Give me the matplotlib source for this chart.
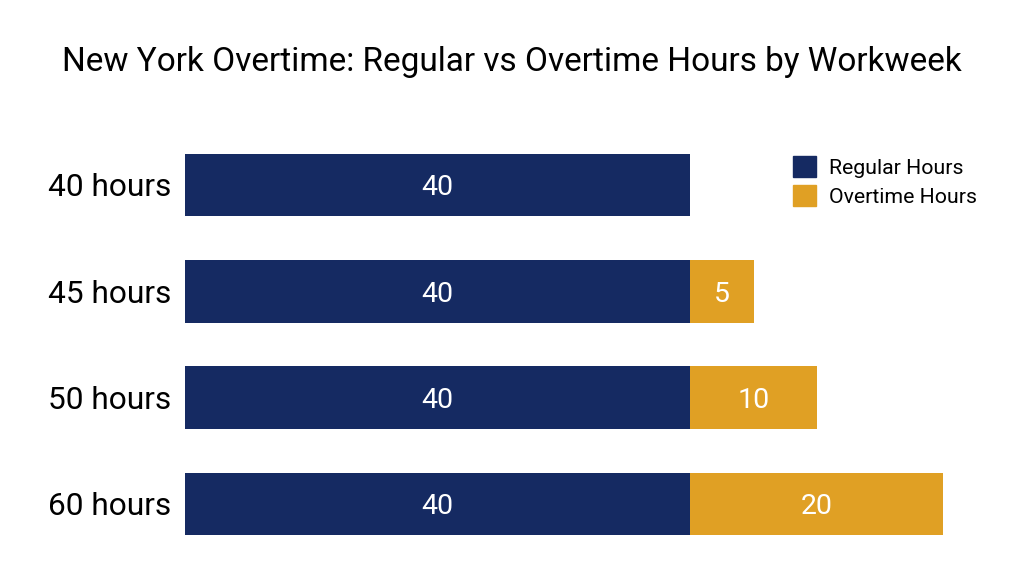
import matplotlib
matplotlib.use("Agg")
import matplotlib.pyplot as plt
from matplotlib.patches import Patch

plt.rcParams['font.family'] = ['Roboto', 'DejaVu Sans']

categories = ["40 hours", "45 hours", "50 hours", "60 hours"]
regular = [40, 40, 40, 40]
overtime = [0, 5, 10, 20]

navy = "#152a62"
gold = "#e0a024"

fig = plt.figure(figsize=(10.24, 5.72), dpi=100)
ax = fig.add_axes([0.1807, 0.026, 0.7403, 0.7436])

y = list(range(len(categories)))
ax.barh(y, regular, height=0.59, color=navy)
ax.barh(y, overtime, left=regular, height=0.59, color=gold)

for i in y:
    ax.text(regular[i] / 2, i, str(regular[i]), ha='center', va='center_baseline',
            color='white', fontsize=20.5)
    if overtime[i] > 0:
        ax.text(regular[i] + overtime[i] / 2, i, str(overtime[i]), ha='center',
                va='center_baseline', color='white', fontsize=20.5)

ax.set_xlim(0, 60)
ax.set_ylim(3.5, -0.5)
ax.set_yticks(y)
ax.set_yticklabels(categories, fontsize=22.8, va='center_baseline')
ax.tick_params(axis='y', length=0, pad=10)
ax.set_xticks([])
for s in ax.spines.values():
    s.set_visible(False)

handles = [Patch(color=navy, label="Regular Hours"),
           Patch(color=gold, label="Overtime Hours")]
fig.legend(handles=handles, loc='upper right', bbox_to_anchor=(0.973, 0.76),
           frameon=False, fontsize=15.3, handlelength=1.1, handleheight=1.1,
           handletextpad=0.6, labelspacing=0.35)

fig.suptitle("New York Overtime: Regular vs Overtime Hours by Workweek",
             fontsize=24, y=0.92)

fig.savefig("out.png", dpi=100)
